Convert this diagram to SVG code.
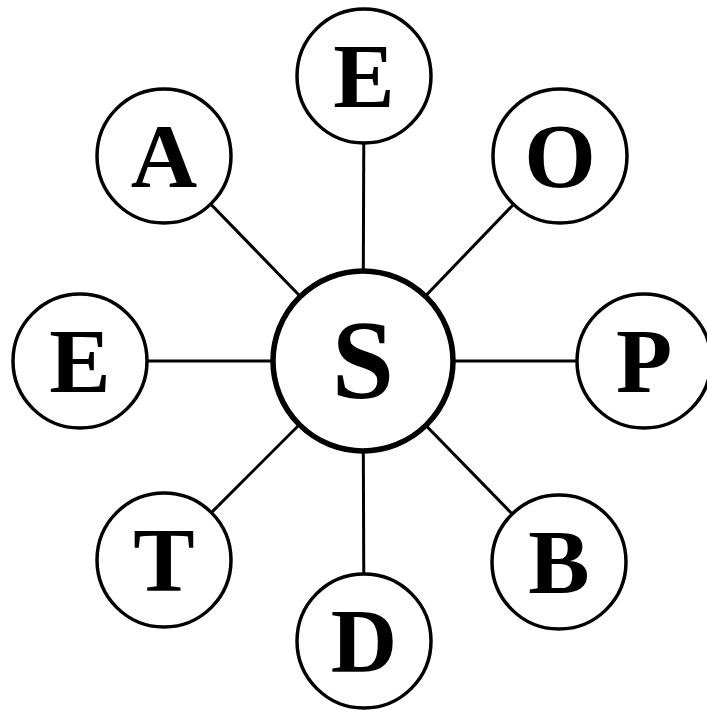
<svg xmlns="http://www.w3.org/2000/svg" width="707" height="710" viewBox="0 0 707 710">
<style>
.c{fill:#fff;stroke:#000;stroke-width:3.5}
.cs{fill:#fff;stroke:#000;stroke-width:5.5}
.t{font-family:"Liberation Serif","DejaVu Serif",serif;font-weight:bold;font-size:92px;text-anchor:middle;fill:#000}
.ts{font-size:112px}
.l{stroke:#000;stroke-width:3}
</style>
<rect width="707" height="710" fill="#fff"/>
<g id="connectors">
<line class="l" x1="363" y1="361" x2="364" y2="76"/>
<line class="l" x1="363" y1="361" x2="164" y2="156"/>
<line class="l" x1="363" y1="361" x2="560" y2="156"/>
<line class="l" x1="363" y1="361" x2="80" y2="361"/>
<line class="l" x1="363" y1="361" x2="644" y2="361"/>
<line class="l" x1="363" y1="361" x2="164" y2="560"/>
<line class="l" x1="363" y1="361" x2="559" y2="562"/>
<line class="l" x1="363" y1="361" x2="364" y2="641"/>
</g>
<g id="S"><circle class="cs" cx="363" cy="361" r="90"/><text class="t ts" x="363" y="398">S</text></g>
<g id="E1"><circle class="c" cx="364" cy="76" r="67"/><text class="t" x="364" y="107">E</text></g>
<g id="A"><circle class="c" cx="164" cy="156" r="67"/><text class="t" x="164" y="187">A</text></g>
<g id="O"><circle class="c" cx="560" cy="156" r="67"/><text class="t" x="560" y="187">O</text></g>
<g id="E2"><circle class="c" cx="80" cy="361" r="67"/><text class="t" x="80" y="392">E</text></g>
<g id="P"><circle class="c" cx="644" cy="361" r="67"/><text class="t" x="644" y="392">P</text></g>
<g id="T"><circle class="c" cx="164" cy="560" r="67"/><text class="t" x="164" y="591">T</text></g>
<g id="B"><circle class="c" cx="559" cy="562" r="67"/><text class="t" x="559" y="593">B</text></g>
<g id="D"><circle class="c" cx="364" cy="641" r="67"/><text class="t" x="364" y="672">D</text></g>
</svg>
